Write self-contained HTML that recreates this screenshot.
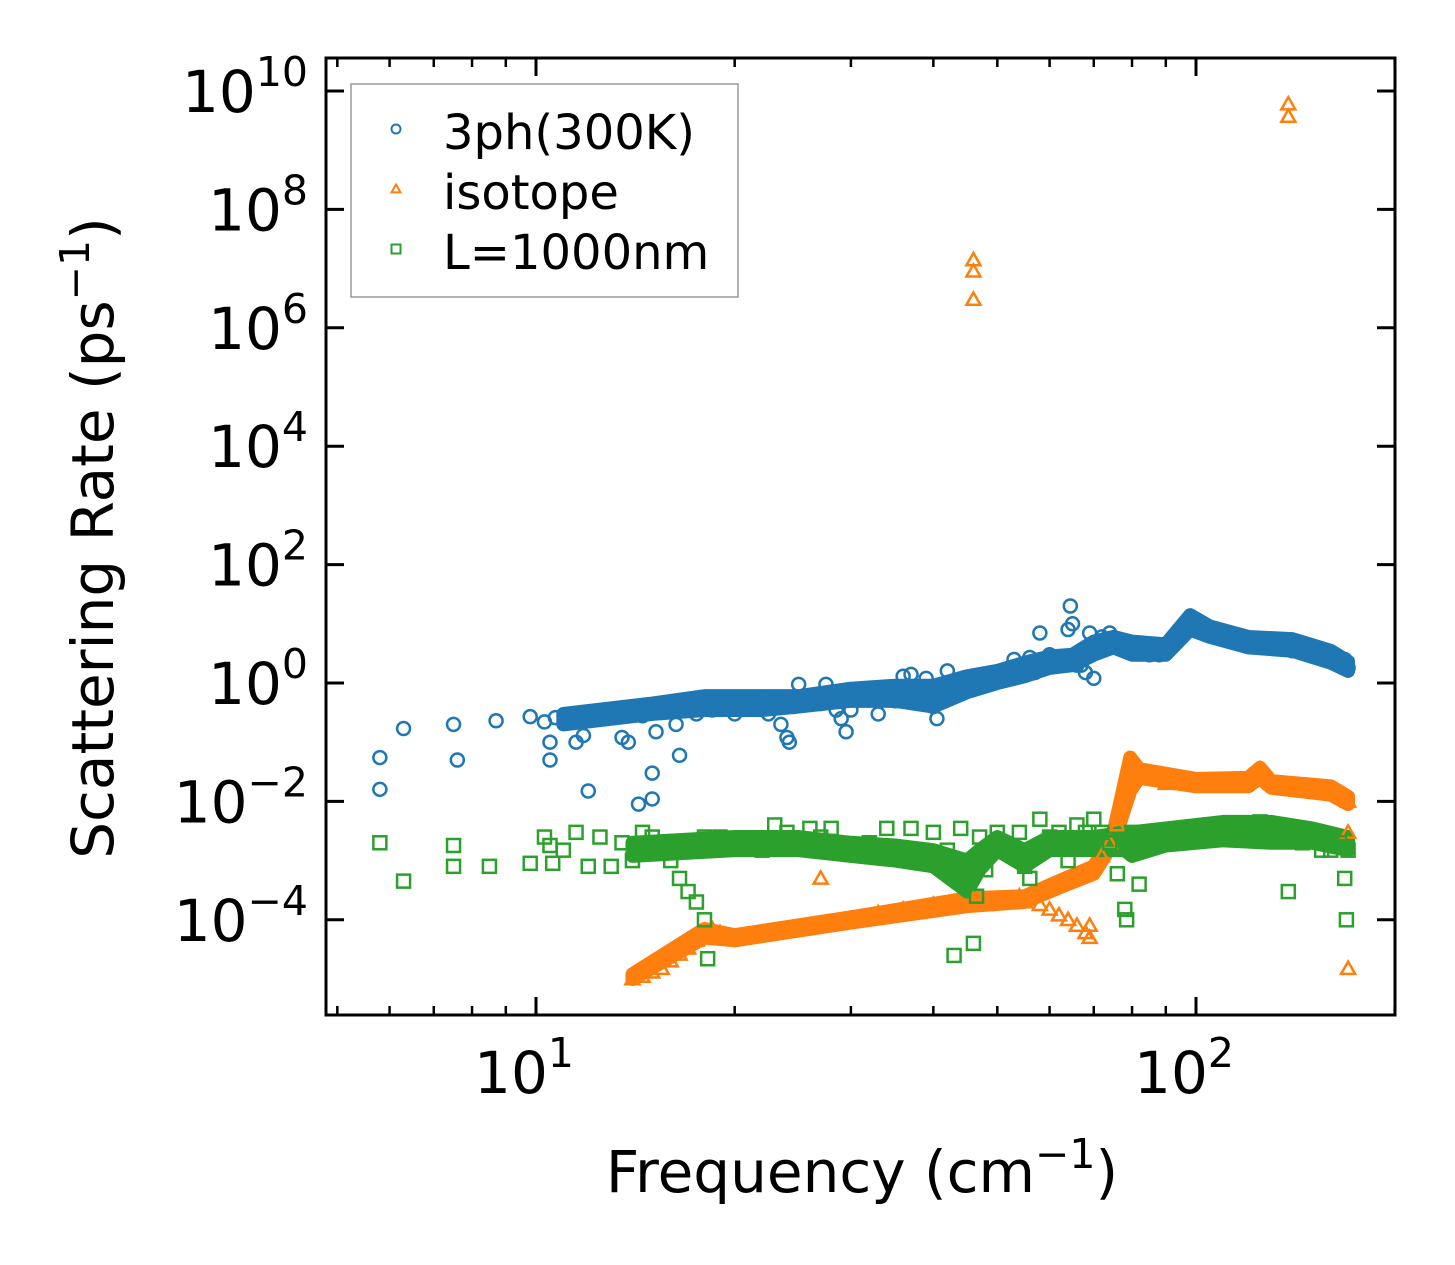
<!DOCTYPE html>
<html><head><meta charset="utf-8"><style>
html,body{margin:0;padding:0;background:#fff;}
svg{display:block;font-family:"DejaVu Sans","Liberation Sans",sans-serif;}
</style></head><body>
<svg id="chart" width="1455" height="1265" viewBox="0 0 1455 1265">
<rect x="0" y="0" width="1455" height="1265" fill="#fff"/>
<g id="bands"></g>
<g id="marks"></g>
<g id="axes"></g>
</svg>
<script>
// ----- data -----
const blueX=[5.8,5.8,6.3,7.5,7.6,8.7,9.8,10.3,10.5,10.5,10.7,11.3,11.5,11.4,11.8,12,12.3,13,13.6,13.5,13.8,14,14.3,14.5,14.7,15,15,15.2,15.5,16,16.5,16.3,17,17.5,18,18.5,19,19.5,20,21,22,22.5,23,23.5,24,24.2,24.5,25,25.5,26,27,27.5,28,28.5,29,29.5,30,30.5,32,33,34,35,36,37,38,39,40,40.5,41,42,43,45,46,48,50,52,53,55,56,57,58,60,62,64,64.5,65,66,67,68,69,70,72,74,76,78,80,82,85,88,90,93,96,98,100,105,110,115,120,125,130,135,140,145,150,155,160,165,170,168];
const blueY=[0.055,0.016,0.17,0.2,0.05,0.23,0.27,0.22,0.1,0.05,0.26,0.28,0.1,0.24,0.13,0.015,0.32,0.33,0.3,0.12,0.1,0.38,0.009,0.28,0.36,0.03,0.011,0.15,0.35,0.4,0.06,0.2,0.45,0.3,0.5,0.35,0.45,0.4,0.3,0.45,0.55,0.3,0.5,0.2,0.12,0.1,0.4,0.95,0.6,0.5,0.45,0.95,0.7,0.35,0.25,0.15,0.35,0.7,0.65,0.3,0.7,0.5,1.3,1.4,0.8,1.2,0.4,0.25,0.5,1.6,0.7,0.9,1,1.2,1.3,1.5,2.5,1.8,2.7,1.5,7,3,2.5,8,20,10,2,2,1.5,7,1.2,6,7,5,5,4,3.5,3,3,3.5,5,8,13,10,8,6,5,5,4.5,4,4,3.5,3.5,3,3,2.5,2,1.8,2.5];
const orangeX=[46,46,46,138,138,27,170,170,14,14.5,15,15.5,16,16.5,17,17.5,18,18.5,19,20,21,22,24,26,28,30,33,36,40,43,46,48,50,52,54,56,58,60,62,65,68,70,72,74,76,78,79.5,80,82,85,90,95,100,110,120,125,128,130,140,150,160,165,170,55,58,60,62,64,66,68,69,69];
const orangeY=[1.4e7,9e6,3e6,6e9,3.7e9,5e-4,3e-3,1.5e-5,1e-5,1.1e-5,1.3e-5,1.5e-5,2e-5,2.6e-5,3.3e-5,4.5e-5,6.5e-5,7e-5,6e-5,5e-5,5.5e-5,6e-5,6.5e-5,8e-5,9e-5,1e-4,1.3e-4,1.5e-4,1.8e-4,2e-4,2.2e-4,1.8e-4,2e-4,2.2e-4,2.5e-4,2.6e-4,3e-4,3.5e-4,4e-4,5e-4,6e-4,8e-4,1.2e-3,2e-3,4e-3,0.012,0.05,0.04,0.03,0.025,0.02,0.02,0.02,0.02,0.025,0.035,0.028,0.02,0.018,0.017,0.015,0.013,0.01,2e-4,1.8e-4,1.5e-4,1.2e-4,1e-4,8e-5,6e-5,5e-5,8e-5];
const greenX=[5.8,6.3,7.5,7.5,8.5,9.8,10.3,10.5,10.6,11,11.5,12,12.5,13,13.5,14,14.5,15,15.5,16,16.5,17,17.5,18,18.2,18,19,20,21,22,23,24,25,26,27,28,30,32,34,35,37,38,40,42,43,44,45,46,46.5,47,48,50,52,54,55,56,57,58,60,62,64,66,68,70,72,74,76,78,78.5,80,82,85,90,95,100,105,110,115,120,125,130,138,140,145,150,155,160,165,168,169,170];
const greenY=[2e-3,4.5e-4,1.8e-3,8e-4,8e-4,9e-4,2.5e-3,1.8e-3,9e-4,1.5e-3,3e-3,8e-4,2.5e-3,8e-4,2e-3,1e-3,3e-3,2.5e-3,1.5e-3,1e-3,5e-4,3e-4,2e-4,1e-4,2.2e-5,2.5e-3,2.5e-3,2e-3,2e-3,1.5e-3,4e-3,3e-3,2e-3,3.5e-3,2.5e-3,3.5e-3,1.5e-3,2e-3,3.5e-3,1.5e-3,3.5e-3,1e-3,3e-3,1.5e-3,2.5e-5,3.5e-3,1e-3,4e-5,2.5e-4,2.5e-3,7e-4,3e-3,1.5e-3,3e-3,8e-4,5e-4,1.5e-3,5e-3,2.5e-3,3e-3,1e-3,4e-3,3e-3,5e-3,3e-3,2e-3,6e-4,1.5e-4,1e-4,3e-3,4e-4,2.5e-3,3e-3,2e-3,3.5e-3,4e-3,4e-3,3e-3,4e-3,4.5e-3,3e-3,3e-4,3e-3,2e-3,3e-3,1.5e-3,1.5e-3,2e-3,5e-4,1e-4,1.5e-3];
// dense-cloud envelopes (freq, low, high)
const blueBandX=[11,15,18,22,25,30,35,40,45,50,55,60,65,70,75,80,90,98,105,120,140,160,170];
const blueBandLo=[0.2,0.3,0.35,0.35,0.4,0.5,0.5,0.4,0.7,1,1.3,1.8,2,3,4,3,3,8,6,4,3.5,2.2,1.6];
const blueBandHi=[0.3,0.45,0.6,0.6,0.6,0.8,0.9,0.9,1.3,1.6,2.2,2.8,3,5,6,5,4.5,14,9,6,5.5,3.5,2.3];
const orangeBandX=[14,18,20,30,45,55,62,70,75,79.5,82,100,120,125,130,160,170];
const orangeBandLo=[1e-5,5e-5,4.5e-5,9e-5,1.7e-4,2e-4,3.5e-4,6e-4,2e-3,0.015,0.025,0.018,0.018,0.025,0.017,0.013,0.009];
const orangeBandHi=[1.2e-5,7e-5,5.5e-5,1.1e-4,2.3e-4,2.5e-4,4.5e-4,8e-4,3e-3,0.055,0.035,0.024,0.025,0.037,0.022,0.018,0.012];
const greenBandX=[14,20,25,30,35,40,45,47,50,55,60,70,78,80,90,110,130,150,170];
const greenBandLo=[1.2e-3,1.5e-3,1.5e-3,1.2e-3,1e-3,8e-4,3e-4,7e-4,1.5e-3,8e-4,1.5e-3,1.5e-3,1.5e-3,1.2e-3,1.8e-3,2.2e-3,2e-3,2e-3,1.5e-3];
const greenBandHi=[2e-3,2.5e-3,2.5e-3,2e-3,1.8e-3,1.5e-3,1e-3,1.5e-3,2.5e-3,1.5e-3,2.5e-3,2.5e-3,3e-3,3e-3,3.5e-3,4.5e-3,4.5e-3,3.5e-3,2.5e-3];
const yTickExp=[-4,-2,0,2,4,6,8,10];
const xTickExp=[1,2];
const xMinor=[5,6,7,8,9,20,30,40,50,60,70,80,90,200];

// ----- geometry -----
const L=326,R=1395,T=58,B=1015;
const X0=536,XD=660, Y0=683,YD=59.2;
function sx(v){return X0+(Math.log10(v)-1)*XD;}
function sy(v){return Y0-Math.log10(v)*YD;}
const NS="http://www.w3.org/2000/svg";
function mk(tag,attrs,parent){const e=document.createElementNS(NS,tag);for(const k in attrs)e.setAttribute(k,attrs[k]);parent.appendChild(e);return e;}
const bands=document.getElementById('bands'),marks=document.getElementById('marks'),axes=document.getElementById('axes');

function band(xs,lo,hi,col,name){
  let pts=xs.map((x,i)=>sx(x)+','+sy(hi[i]));
  for(let i=xs.length-1;i>=0;i--)pts.push(sx(xs[i])+','+sy(lo[i]));
  const p=mk('polygon',{points:pts.join(' '),fill:col,stroke:col,'stroke-width':14,'stroke-linejoin':'round'},bands);
  
  
}
band(blueBandX,blueBandLo,blueBandHi,'#1f77b4','blue-band');
band(orangeBandX,orangeBandLo,orangeBandHi,'#ff7f0e','orange-band');
band(greenBandX,greenBandLo,greenBandHi,'#2ca02c','green-band');

function circle(cx,cy,g,r,w){return mk('circle',{cx:cx,cy:cy,r:r||6.5,fill:'none',stroke:'#1f77b4','stroke-width':w||2.5},g);}
function tri(cx,cy,g,s,w){s=s||7;return mk('polygon',{points:`${cx},${cy-s} ${cx-s},${cy+s*0.75} ${cx+s},${cy+s*0.75}`,fill:'none',stroke:'#ff7f0e','stroke-width':w||2.5},g);}
function sq(cx,cy,g,s,w){s=s||6.5;return mk('rect',{x:cx-s,y:cy-s,width:2*s,height:2*s,fill:'none',stroke:'#2ca02c','stroke-width':w||2.5},g);}

orangeX.forEach((x,i)=>{const e=tri(sx(x),sy(orangeY[i]),marks);

});
blueX.forEach((x,i)=>{const e=circle(sx(x),sy(blueY[i]),marks);

});
greenX.forEach((x,i)=>{const e=sq(sx(x),sy(greenY[i]),marks);

});

// frame
const fr=mk('rect',{x:L,y:T,width:R-L,height:B-T,fill:'none',stroke:'#000','stroke-width':3},axes);


yTickExp.forEach(e=>{const y=sy(Math.pow(10,e));
 mk('line',{x1:L,x2:L+18,y1:y,y2:y,stroke:'#000','stroke-width':3},axes);
 mk('line',{x1:R,x2:R-18,y1:y,y2:y,stroke:'#000','stroke-width':3},axes);
 const t=mk('text',{x:L-18,y:y+21,'text-anchor':'end','font-size':58,fill:'#000'},axes);
 
 
 t.innerHTML='10<tspan dy="-26" font-size="41">'+(e<0?'\u2212'+(-e):e)+'</tspan>';
});
xTickExp.forEach(e=>{const x=sx(Math.pow(10,e));
 mk('line',{x1:x,x2:x,y1:B,y2:B-18,stroke:'#000','stroke-width':3},axes);
 mk('line',{x1:x,x2:x,y1:T,y2:T+18,stroke:'#000','stroke-width':3},axes);
 const t=mk('text',{x:x-12,y:1093,'text-anchor':'middle','font-size':58,fill:'#000'},axes);
 
 
 t.innerHTML='10<tspan dy="-26" font-size="41">'+e+'</tspan>';
});
xMinor.forEach(v=>{const x=sx(v);
 mk('line',{x1:x,x2:x,y1:B,y2:B-9,stroke:'#000','stroke-width':2.5},axes);
 mk('line',{x1:x,x2:x,y1:T,y2:T+9,stroke:'#000','stroke-width':2.5},axes);
});
const xt=mk('text',{x:862,y:1192,'text-anchor':'middle','font-size':58,fill:'#000'},axes);


xt.innerHTML='Frequency (cm<tspan dy="-24" font-size="41">\u22121</tspan><tspan dy="24">)</tspan>';
const yt=mk('text',{x:0,y:0,'text-anchor':'middle','font-size':58,fill:'#000',transform:'translate(113,538) rotate(-90)'},axes);


yt.innerHTML='Scattering Rate (ps<tspan dy="-24" font-size="41">\u22121</tspan><tspan dy="24">)</tspan>';
const lg=mk('g',{},axes);


mk('rect',{x:351,y:84,width:387,height:213,fill:'#fff',stroke:'#999','stroke-width':1.5},lg);
const entries=[['3ph(300K)',circle],['isotope',tri],['L=1000nm',sq]];
entries.forEach((en,i)=>{const y=129+i*60;
 const m=en[1](396,y,lg,4.5,2);
 
 
 const t=mk('text',{x:443,y:y+20,'font-size':48,fill:'#000'},lg);
 t.textContent=en[0];
 
 
});
</script>
</body></html>
